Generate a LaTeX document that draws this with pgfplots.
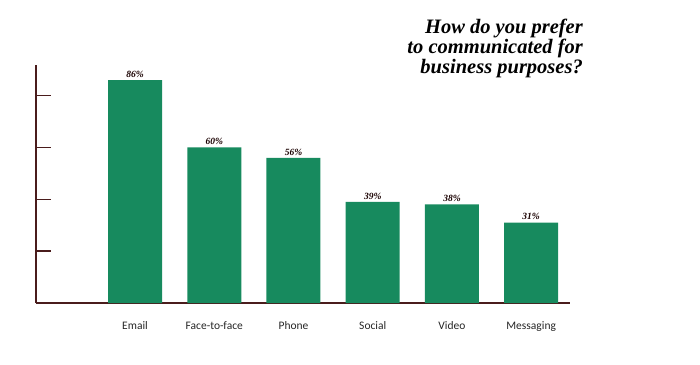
\documentclass[border=0pt]{standalone}
\usepackage{pgfplots}
\pgfplotsset{compat=1.18}
\usepackage{fontspec}
\setmainfont{Liberation Serif}
\newfontfamily\labfont{Carlito}
\definecolor{barg}{HTML}{178A5E}
\definecolor{axbr}{HTML}{4A1C1C}
\begin{document}
\begin{tikzpicture}[x=1pt,y=1pt]
\path (0,0) rectangle (700,364);
\begin{axis}[
  at={(36pt,61pt)}, anchor=south west,
  scale only axis, width=534pt, height=238pt,
  xmin=-1.25, xmax=5.49, ymin=0, ymax=91.8,
  axis lines=left, axis line style={-, axbr, line width=1.3pt},
  ytick={20,40,60,80}, yticklabels={},
  ytick style={axbr, line width=1.3pt}, major tick length=15pt, tick align=inside,
  xtick={0,1,2,3,4,5}, xtick style={draw=none},
  xticklabels={Email,Face-to-face,Phone,Social,Video,Messaging},
  xticklabel style={font=\labfont\fontsize{11.5}{13}\selectfont, yshift=0pt, text=black!85},
  ybar, bar width=54pt,
  nodes near coords={\pgfmathprintnumber[assume math mode=true]{\pgfplotspointmeta}\%},
  every node near coord/.append style={font=\bfseries\itshape\fontsize{9.5}{10}\selectfont, text=black!90!red, yshift=-1pt},
]
\addplot[fill=barg, draw=none] coordinates {(0,86) (1,60) (2,56) (3,39) (4,38) (5,31)};
\end{axis}
\node[anchor=north east, align=right, font=\bfseries\itshape\fontsize{20.5}{20}\selectfont, inner sep=0pt] at (583,345) {How do you prefer\\to communicated for\\business purposes?};
\end{tikzpicture}
\end{document}
